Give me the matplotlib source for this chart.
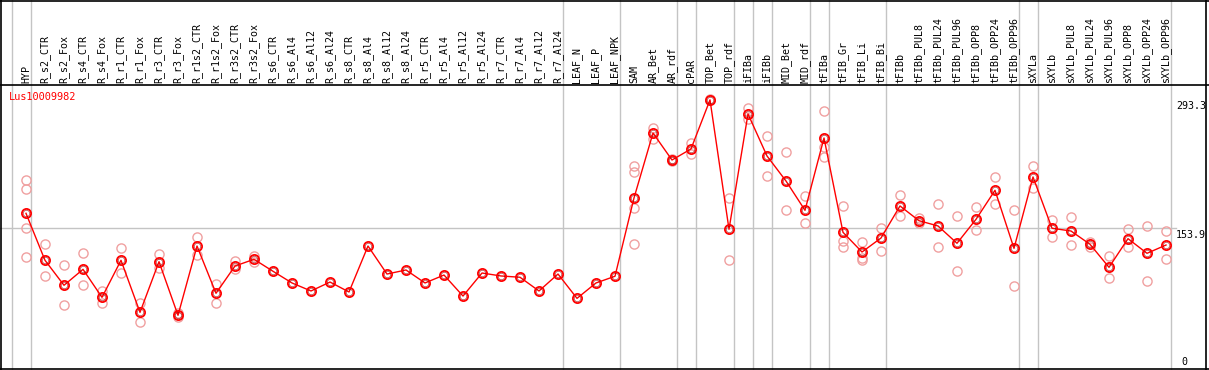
import matplotlib
matplotlib.use("Agg")
import matplotlib.pyplot as plt
from matplotlib.lines import Line2D

categories = [
    "HYP", "R_s2_CTR", "R_s2_Fox", "R_s4_CTR", "R_s4_Fox", "R_r1_CTR", "R_r1_Fox",
    "R_r3_CTR", "R_r3_Fox", "R_r1s2_CTR", "R_r1s2_Fox", "R_r3s2_CTR", "R_r3s2_Fox",
    "R_s6_CTR", "R_s6_Al4", "R_s6_Al12", "R_s6_Al24", "R_s8_CTR", "R_s8_Al4",
    "R_s8_Al12", "R_s8_Al24", "R_r5_CTR", "R_r5_Al4", "R_r5_Al12", "R_r5_Al24",
    "R_r7_CTR", "R_r7_Al4", "R_r7_Al12", "R_r7_Al24", "LEAF_N", "LEAF_P", "LEAF_NPK",
    "SAM", "AR_Bet", "AR_rdf", "cPAR", "TOP_Bet", "TOP_rdf", "iFIBa", "iFIBb",
    "MID_Bet", "MID_rdf", "tFIBa", "tFIB_Gr", "tFIB_Li", "tFIB_Bi", "tFIBb",
    "tFIBb_PUL8", "tFIBb_PUL24", "tFIBb_PUL96", "tFIBb_OPP8", "tFIBb_OPP24",
    "tFIBb_OPP96", "sXYLa", "sXYLb", "sXYLb_PUL8", "sXYLb_PUL24", "sXYLb_PUL96",
    "sXYLb_OPP8", "sXYLb_OPP24", "sXYLb_OPP96",
]

means = [
    170.1, 119.1, 92.0, 109.3, 78.9, 119.1, 62.6, 117.6, 59.4, 134.6, 83.3, 112.9, 120.2,
    107.2, 94.5, 85.8, 95.5, 84.7, 134.6, 104.2, 108.6, 94.5, 103.1, 80.3, 105.3,
    102.1, 100.7, 85.8, 104.2, 77.8, 94.5, 101.8,
    186.8, 257.3, 228.0, 240.0, 293.3, 152.8, 278.0, 232.4, 205.2, 173.4,
    251.9, 149.5, 128.1, 143.3, 178.1, 162.1, 156.4, 137.6, 163.6, 195.1, 132.1,
    209.6, 153.9, 150.9, 136.5, 111.5, 142.6, 126.7, 135.7,
]

replicates = [
    [206.3, 196.2, 154.5, 122.4], [136.5, 102.4], [113.7, 70.2], [126.7, 92.0],
    [86.1, 73.1], [132.1, 105.6], [72.4, 52.4], [126.0, 110.4], [61.6, 57.2],
    [144.1, 124.9], [93.4, 73.1], [118.3, 109.3], [123.8, 117.6],
    [], [], [], [], [], [], [], [], [], [], [], [], [], [], [], [], [], [], [],
    [221.5, 214.7, 175.6, 136.8], [263.1, 250.8], [229.5, 226.5], [246.5, 234.5],
    [293.8, 292.8], [186.8, 119.4], [284.5, 272.2], [254.1, 210.3], [236.7, 173.7],
    [188.6, 159.3], [281.2, 242.5, 230.9], [178.1, 139.7, 133.9],
    [138.7, 121.9, 119.4], [154.2, 128.9], [189.7, 167.2], [165.4, 159.3],
    [179.9, 133.2], [167.2, 107.5], [176.7, 151.7], [209.2, 179.9], [173.4, 90.9],
    [221.2, 197.3], [162.9, 144.7], [166.1, 135.7], [139.3, 133.7], [123.8, 99.6],
    [153.1, 133.2], [156.4, 96.3], [150.6, 120.5],
]

group_ends = [-1, 0, 28, 31, 34, 35, 37, 38, 39, 41, 42, 45, 52, 53, 60]
axis_labels = ["293.3", "153.9", "0"]
axis_values = [293.3, 153.9, 0.0]
gene_name = "Lus10009982"

W, H = 1209, 370
HEADER = 85
fig = plt.figure(figsize=(W / 100, H / 100), dpi=100)
ax = fig.add_axes([0, 0, 1, (H - HEADER) / H])
x0_px, step_px = 26.0, 19.0
ax.set_xlim(-x0_px / step_px, (W - x0_px) / step_px)
px_per_unit = 0.921
ax.set_ylim(0, (H - HEADER) / px_per_unit)
ax.axis("off")

mono = "DejaVu Sans Mono"
gray = "#c4c4c4"
red = "#ff0000"
pink = "#f0a0a0"

# vertical group separators spanning the whole figure
for g in group_ends:
    ax.axvline(g + 0.25, 0, H / (H - HEADER), color=gray, lw=1, clip_on=False, zorder=1)

# horizontal reference line
ax.plot([0, 1176 / W], [153.9, 153.9], color=gray, lw=1,
        transform=ax.get_yaxis_transform(), zorder=1, clip_on=False)

# replicates
xs, ys = [], []
for i, reps in enumerate(replicates):
    for r in reps:
        xs.append(i)
        ys.append(r)
ax.plot(xs, ys, linestyle="none", marker="o", ms=6.6, mfc="none", mec=pink, mew=1.0, zorder=2)

# means
xi = list(range(len(categories)))
ax.plot(xi, means, color=red, lw=1, zorder=3)
ax.plot(xi, means, linestyle="none", marker="o", ms=6.6, mfc="none", mec=red, mew=1.3, zorder=4)
ax.plot(xi, means, linestyle="none", marker="o", ms=4.6, mfc="none", mec="#900000", mew=0.35, zorder=5)

# header labels
label_y = (H - 83) / (H - HEADER)
trans = ax.get_xaxis_transform()
for i, c in enumerate(categories):
    ax.text(i, label_y, c, rotation=90, ha="center", va="bottom", fontsize=7.2,
            family=mono, transform=trans, clip_on=False)

# gene name
fig.text(9 / W, 1 - 97 / H, gene_name, color=red, fontsize=7.4, family=mono,
         ha="left", va="center")

# right-hand value labels
for lab, v in zip(axis_labels, axis_values):
    if v == 0:
        ax.text(1181 / W, 0.012, lab, fontsize=7.2, family=mono, ha="left", va="bottom",
                transform=ax.transAxes)
    else:
        ax.text(1176 / W, v - 1.5 / px_per_unit, lab, fontsize=7.2, family=mono, ha="left",
                va="top", transform=ax.get_yaxis_transform())

# borders
def hline(y):
    fig.add_artist(Line2D([0, 1], [1 - y / H, 1 - y / H], color="black", lw=1.2))

def vline(x):
    fig.add_artist(Line2D([x / W, x / W], [0, 1], color="black", lw=1.2))

hline(0.7)
hline(HEADER)
hline(369)
vline(1.2)
vline(1206)

fig.savefig("out.png", dpi=100)
